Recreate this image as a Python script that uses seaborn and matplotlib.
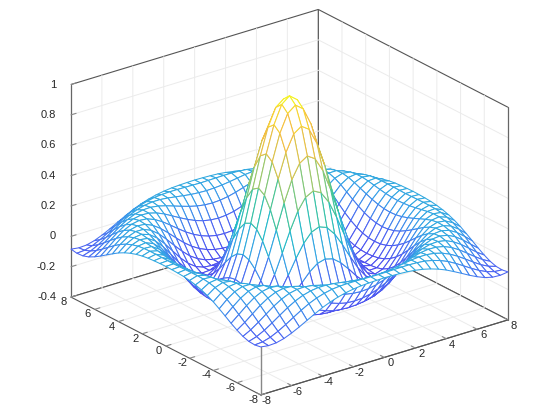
import numpy as np
import matplotlib
matplotlib.use("Agg")
import matplotlib.pyplot as plt
from mpl_toolkits.mplot3d import proj3d
import seaborn as sns

# surface heights: one quadrant, x and y from 0 to 8 in steps of 0.5
z_rows = [
    [1.000, .959, .841, .665, .455, .239, .047, -.100, -.189, -.217, -.192, -.128, -.047, .033, .094, .125, .124],
    [.959, .919, .805, .632, .428, .219, .033, -.108, -.193, -.217, -.189, -.125, -.043, .036, .096, .126, .123],
    [.841, .805, .699, .540, .352, .161, -.007, -.131, -.202, -.216, -.182, -.114, -.033, .044, .100, .127, .121],
    [.665, .632, .540, .402, .239, .077, -.063, -.162, -.212, -.211, -.167, -.096, -.016, .057, .107, .128, .118],
    [.455, .428, .352, .239, .109, -.019, -.125, -.193, -.217, -.199, -.145, -.071, .007, .073, .115, .128, .112],
    [.239, .219, .161, .077, -.019, -.108, -.177, -.213, -.212, -.176, -.114, -.040, .033, .090, .123, .126, .103],
    [.047, .033, -.007, -.063, -.125, -.177, -.210, -.216, -.192, -.142, -.075, -.003, .061, .107, .128, .121, .090],
    [-.100, -.108, -.131, -.162, -.193, -.213, -.216, -.196, -.155, -.096, -.029, .036, .089, .121, .128, .110, .073],
    [-.189, -.193, -.202, -.212, -.217, -.212, -.192, -.155, -.104, -.043, .019, .073, .111, .128, .121, .094, .052],
    [-.217, -.217, -.216, -.211, -.199, -.176, -.142, -.096, -.043, .013, .064, .103, .125, .126, .107, .072, .026],
    [-.192, -.189, -.182, -.167, -.145, -.114, -.075, -.029, .019, .064, .100, .123, .128, .115, .085, .044, -.001],
    [-.128, -.125, -.114, -.096, -.071, -.040, -.003, .036, .073, .103, .123, .128, .118, .093, .056, .013, -.029],
    [-.047, -.043, -.033, -.016, .007, .033, .061, .089, .111, .125, .128, .118, .095, .062, .022, -.019, -.054],
    [.033, .036, .044, .057, .073, .090, .107, .121, .128, .126, .115, .093, .062, .025, -.013, -.048, -.075],
    [.094, .096, .100, .107, .115, .123, .128, .128, .121, .107, .085, .056, .022, -.013, -.046, -.072, -.088],
    [.125, .126, .127, .128, .128, .126, .121, .110, .094, .072, .044, .013, -.019, -.048, -.072, -.087, -.091],
    [.124, .123, .121, .118, .112, .103, .090, .073, .052, .026, -.001, -.029, -.054, -.075, -.088, -.091, -.084],
]
x_ticks = [-8, -6, -4, -2, 0, 2, 4, 6, 8]
y_ticks = [-8, -6, -4, -2, 0, 2, 4, 6, 8]
z_ticks = [-0.4, -0.2, 0, 0.2, 0.4, 0.6, 0.8, 1]
z_tick_labels = ["-0.4", "-0.2", "0", "0.2", "0.4", "0.6", "0.8", "1"]
grid_axis = np.arange(-8, 8.5, 0.5)
mesh_colors = ["#4A4AEE", "#4A66F2", "#35A0E8", "#20BCC8", "#40C49A",
               "#90C870", "#DCC24A", "#F8BE40", "#F5F520"]

sns.set_theme(style="white", font="Liberation Sans", rc={
    "grid.color": "#ebebeb", "grid.linewidth": 0.7, "grid.linestyle": "-",
    "axes3d.grid": True, "font.size": 8, "text.color": "#262626",
})
mesh_cmap = sns.blend_palette(mesh_colors, as_cmap=True)

quadrant = np.array(z_rows)
half = np.concatenate([quadrant[:0:-1], quadrant], axis=0)
Z = np.concatenate([half[:, :0:-1], half], axis=1)
X, Y = np.meshgrid(grid_axis, grid_axis)

fig = plt.figure(figsize=(5.6, 4.2), dpi=100)
ax = fig.add_subplot(projection="3d", proj_type="ortho", computed_zorder=False)
ax.view_init(elev=23.3, azim=-127.5)
ax.set_box_aspect((311, 311, 231))
ax.set_xlim(-8, 8)
ax.set_ylim(-8, 8)
ax.set_zlim(-0.4, 1)
# interior ticks only: grid lines on the limits would paint over the dark box edges
ax.set_xticks(x_ticks[1:-1])
ax.set_yticks(y_ticks[1:-1])
ax.set_zticks(z_ticks[1:-1])
box_color = "#555555"
for axis in (ax.xaxis, ax.yaxis, ax.zaxis):
    axis.line.set_color("none")
    axis.pane.set_alpha(1)
    axis.pane.set_facecolor("white")
    axis.pane.set_edgecolor(box_color)
    axis.pane.set_linewidth(0.8)
    axis._axinfo["tick"]["inward_factor"] = 0
    axis._axinfo["tick"]["outward_factor"] = 0
    axis.set_tick_params(label1On=False, label2On=False)

surf = ax.plot_surface(X, Y, Z, rstride=1, cstride=1, color="white", shade=False,
                       linewidth=0.75, zorder=5)
cells = (Z[:-1, :-1] + Z[1:, :-1] + Z[:-1, 1:] + Z[1:, 1:]) / 4
surf.set_edgecolor(mesh_cmap(plt.Normalize(-0.217, 0.97)(cells.ravel())))

# box edges the open panes leave out
ax.plot([-8, -8], [8, 8], [-0.4, 1], color="#666666", lw=0.9, zorder=2)
ax.plot([8, 8], [-8, -8], [-0.4, 1], color="#666666", lw=0.9, zorder=2)
ax.plot([-8, -8], [-8, 8], [-0.4, -0.4], color=box_color, lw=0.8, zorder=2)
ax.plot([-8, 8], [-8, -8], [-0.4, -0.4], color=box_color, lw=0.8, zorder=2)
ax.plot([-8, -8], [-8, -8], [-0.4, Z[0, 0]], color="#888888", lw=1.0, zorder=2)

tick_color = "#8a8a8a"
for v in y_ticks:
    ax.plot([-8, -7.67], [v, v], [-0.4, -0.4], color=tick_color, lw=0.8, zorder=2)
for v in x_ticks:
    ax.plot([v, v], [-8, -7.67], [-0.4, -0.4], color=tick_color, lw=0.8, zorder=2)
for v in z_ticks:
    ax.plot([-8, -7.67], [8, 8], [v, v], color=tick_color, lw=0.8, zorder=2)


def to_2d(x, y, z):
    x2, y2, _ = proj3d.proj_transform(x, y, z, ax.get_proj())
    return x2, y2


def to_px(x, y, z):
    return ax.transData.transform(to_2d(x, y, z))


# fit the box onto the figure: left corner (71, 297), right corner (508, 320) in image pixels
size, cx, cy = 500.0, 280.0, 210.0
for _ in range(4):
    ax.set_position([(cx - size / 2) / 560, (cy - size / 2) / 420, size / 560, size / 420])
    ax.apply_aspect()
    left = to_px(-8, 8, -0.4)
    right = to_px(8, -8, -0.4)
    scale = 437.0 / abs(right[0] - left[0])
    size *= scale
    cx += ((71 + 508) / 2 - (left[0] + right[0]) / 2)
    cy += ((420 - 297 + 420 - 320) / 2 - (left[1] + right[1]) / 2)
ax.set_position([(cx - size / 2) / 560, (cy - size / 2) / 420, size / 560, size / 420])


def place(x, y, z, s, dx, dy, ha="center"):
    ax.annotate(s, xy=to_2d(x, y, z), xycoords="data", xytext=(dx, dy),
                textcoords="offset pixels", ha=ha, va="center", fontsize=8,
                color="#262626", annotation_clip=False)


for v in y_ticks:
    place(-8, v, -0.4, str(v), -7, -5)
for v in x_ticks:
    place(v, -8, -0.4, str(v), 6, -6)
for v, s in zip(z_ticks, z_tick_labels):
    place(-8, 8, v, s, -15, 0, ha="right")

fig.savefig("out.png", dpi=100)
